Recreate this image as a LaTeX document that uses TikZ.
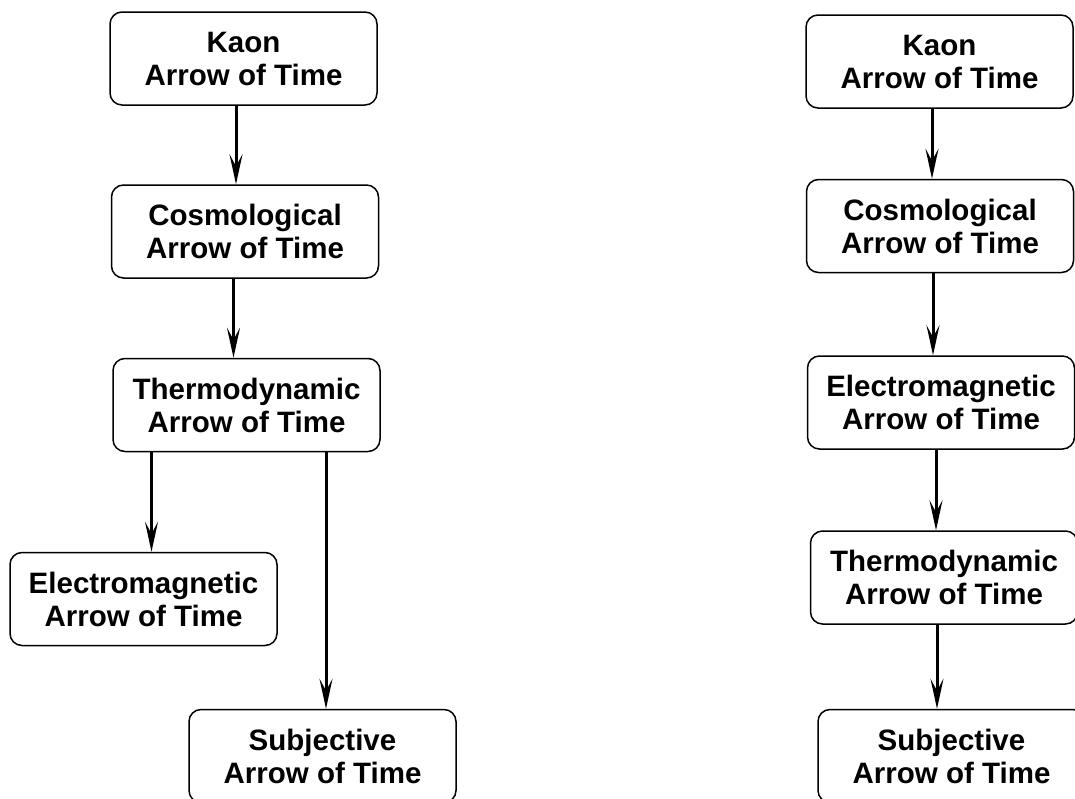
\documentclass[tikz,border=0pt]{standalone}
\usepackage{fontspec}
\setmainfont{Liberation Sans}
\usetikzlibrary{positioning, arrows.meta, calc}

\begin{document}
\begin{tikzpicture}[x=1pt, y=-1pt,
  arrowbox/.style={draw, line width=1.5pt, rounded corners=12pt, minimum width=267pt,
    minimum height=93pt, align=center, inner sep=0pt,
    font=\fontsize{29.5}{33}\selectfont\bfseries},
  arr/.style={line width=3pt, -{Stealth[length=30pt, width=13pt, inset=12pt]}}]
\clip (0,0) rectangle (1075,798);
% left chain
\node[arrowbox] (kaonL)    at (243.5,58.5) {Kaon\\Arrow of Time};
\node[arrowbox] (cosmoL)   at (245,231.5)  {Cosmological\\Arrow of Time};
\node[arrowbox] (thermoL)  at (246.5,405)  {Thermodynamic\\Arrow of Time};
\node[arrowbox] (electroL) at (143.5,599)  {Electromagnetic\\Arrow of Time};
\node[arrowbox] (subjL)    at (322.5,756)  {Subjective\\Arrow of Time};
\draw[arr] ([xshift=-9]cosmoL.north |- kaonL.south) -- ([xshift=-9]cosmoL.north);
\draw[arr] ([xshift=-13]thermoL.north |- cosmoL.south) -- ([xshift=-13]thermoL.north);
\draw[arr] ([xshift=8]electroL.north |- thermoL.south) -- ([xshift=8]electroL.north);
\draw[arr] ([xshift=3.5]subjL.north |- thermoL.south) -- ([xshift=3.5]subjL.north);
% right chain
\node[arrowbox] (kaonR)    at (939.5,61.5) {Kaon\\Arrow of Time};
\node[arrowbox] (cosmoR)   at (940,226)    {Cosmological\\Arrow of Time};
\node[arrowbox] (electroR) at (941,402.5)  {Electromagnetic\\Arrow of Time};
\node[arrowbox] (thermoR)  at (944,577.5)  {Thermodynamic\\Arrow of Time};
\node[arrowbox] (subjR)    at (951.5,756)  {Subjective\\Arrow of Time};
\draw[arr] ([xshift=-8]cosmoR.north |- kaonR.south) -- ([xshift=-8]cosmoR.north);
\draw[arr] ([xshift=-8]electroR.north |- cosmoR.south) -- ([xshift=-8]electroR.north);
\draw[arr] ([xshift=-8]thermoR.north |- electroR.south) -- ([xshift=-8]thermoR.north);
\draw[arr] ([xshift=-14.5]subjR.north |- thermoR.south) -- ([xshift=-14.5]subjR.north);
\end{tikzpicture}
\end{document}
